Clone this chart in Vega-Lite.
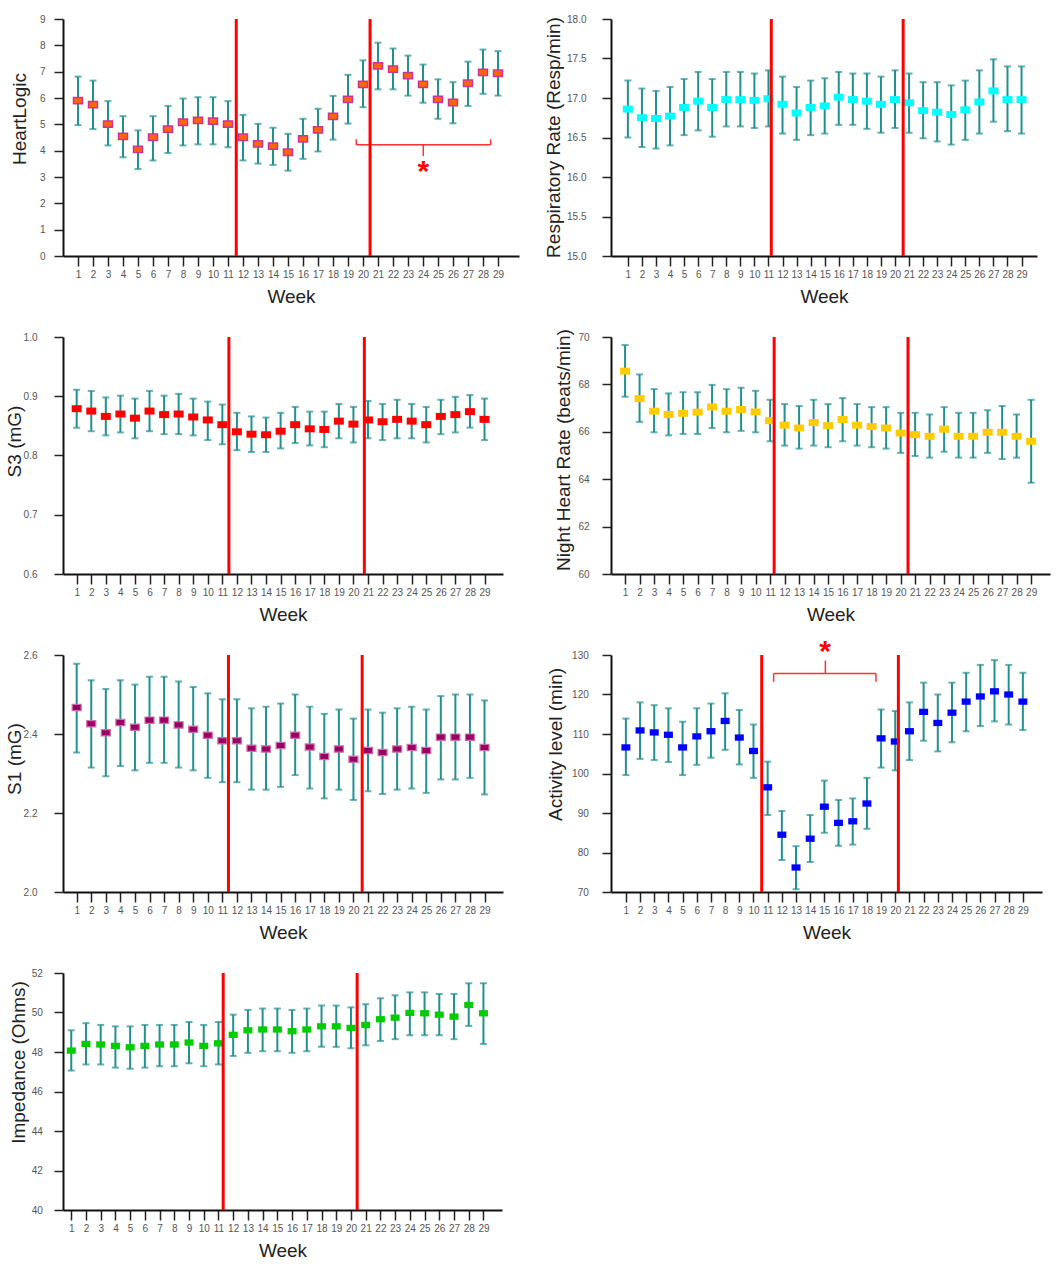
{
"$schema": "https://vega.github.io/schema/vega-lite/v6.json",
"background": "white",
"padding": {"left": 5, "top": 13, "right": 5, "bottom": 5},
"config": {
  "view": {"stroke": null},
  "font": "Liberation Sans",
  "axis": {"grid": false, "domainColor": "#111", "domainWidth": 2, "tickColor": "#222", "tickWidth": 1.5, "labelFont": "Liberation Sans", "labelFontSize": 10, "labelColor": "#555", "titleFont": "Liberation Sans", "titleFontSize": 19, "titleFontWeight": "normal", "titleColor": "#222", "labelOverlap": false, "labelFlush": false, "titleBaseline": "middle"},
  "axisX": {"tickSize": 10, "labelPadding": 3},
  "axisY": {"tickSize": 9}
},
"datasets": {
  "hl": [
    {"week":1,"mean":5.90,"lo":4.97,"hi":6.81},{"week":2,"mean":5.75,"lo":4.82,"hi":6.66},{"week":3,"mean":5.01,"lo":4.20,"hi":5.88},{"week":4,"mean":4.54,"lo":3.75,"hi":5.31},{"week":5,"mean":4.05,"lo":3.30,"hi":4.77},{"week":6,"mean":4.51,"lo":3.63,"hi":5.31},{"week":7,"mean":4.82,"lo":3.91,"hi":5.70},{"week":8,"mean":5.08,"lo":4.20,"hi":5.98},{"week":9,"mean":5.15,"lo":4.24,"hi":6.03},{"week":10,"mean":5.12,"lo":4.24,"hi":6.03},{"week":11,"mean":5.01,"lo":4.13,"hi":5.88},{"week":12,"mean":4.51,"lo":3.63,"hi":5.36},{"week":13,"mean":4.26,"lo":3.51,"hi":5.02},{"week":14,"mean":4.17,"lo":3.46,"hi":4.87},{"week":15,"mean":3.94,"lo":3.24,"hi":4.64},{"week":16,"mean":4.45,"lo":3.69,"hi":5.21},{"week":17,"mean":4.79,"lo":3.97,"hi":5.59},{"week":18,"mean":5.30,"lo":4.42,"hi":6.08},{"week":19,"mean":5.95,"lo":5.03,"hi":6.88},{"week":20,"mean":6.52,"lo":5.65,"hi":7.43},{"week":21,"mean":7.22,"lo":6.33,"hi":8.10},{"week":22,"mean":7.10,"lo":6.33,"hi":7.88},{"week":23,"mean":6.85,"lo":6.09,"hi":7.61},{"week":24,"mean":6.52,"lo":5.82,"hi":7.27},{"week":25,"mean":5.95,"lo":5.21,"hi":6.71},{"week":26,"mean":5.83,"lo":5.04,"hi":6.60},{"week":27,"mean":6.56,"lo":5.70,"hi":7.38},{"week":28,"mean":6.97,"lo":6.16,"hi":7.84},{"week":29,"mean":6.94,"lo":6.09,"hi":7.78}
  ],
  "rr": [
    {"week":1,"mean":16.86,"lo":16.50,"hi":17.22},{"week":2,"mean":16.75,"lo":16.38,"hi":17.12},{"week":3,"mean":16.74,"lo":16.36,"hi":17.09},{"week":4,"mean":16.77,"lo":16.40,"hi":17.14},{"week":5,"mean":16.88,"lo":16.53,"hi":17.24},{"week":6,"mean":16.96,"lo":16.59,"hi":17.33},{"week":7,"mean":16.88,"lo":16.51,"hi":17.24},{"week":8,"mean":16.98,"lo":16.64,"hi":17.33},{"week":9,"mean":16.98,"lo":16.64,"hi":17.33},{"week":10,"mean":16.97,"lo":16.62,"hi":17.31},{"week":11,"mean":16.99,"lo":16.64,"hi":17.35},{"week":12,"mean":16.92,"lo":16.55,"hi":17.27},{"week":13,"mean":16.81,"lo":16.47,"hi":17.14},{"week":14,"mean":16.88,"lo":16.53,"hi":17.22},{"week":15,"mean":16.90,"lo":16.55,"hi":17.25},{"week":16,"mean":17.01,"lo":16.66,"hi":17.33},{"week":17,"mean":16.98,"lo":16.66,"hi":17.31},{"week":18,"mean":16.96,"lo":16.61,"hi":17.31},{"week":19,"mean":16.92,"lo":16.56,"hi":17.27},{"week":20,"mean":16.98,"lo":16.62,"hi":17.35},{"week":21,"mean":16.94,"lo":16.56,"hi":17.31},{"week":22,"mean":16.84,"lo":16.49,"hi":17.20},{"week":23,"mean":16.82,"lo":16.45,"hi":17.20},{"week":24,"mean":16.79,"lo":16.41,"hi":17.16},{"week":25,"mean":16.85,"lo":16.47,"hi":17.22},{"week":26,"mean":16.95,"lo":16.55,"hi":17.35},{"week":27,"mean":17.09,"lo":16.70,"hi":17.49},{"week":28,"mean":16.98,"lo":16.58,"hi":17.40},{"week":29,"mean":16.98,"lo":16.55,"hi":17.40}
  ],
  "s3": [
    {"week":1,"mean":0.879,"lo":0.847,"hi":0.911},{"week":2,"mean":0.875,"lo":0.841,"hi":0.909},{"week":3,"mean":0.866,"lo":0.834,"hi":0.898},{"week":4,"mean":0.870,"lo":0.839,"hi":0.901},{"week":5,"mean":0.863,"lo":0.829,"hi":0.896},{"week":6,"mean":0.875,"lo":0.841,"hi":0.909},{"week":7,"mean":0.869,"lo":0.836,"hi":0.901},{"week":8,"mean":0.870,"lo":0.836,"hi":0.904},{"week":9,"mean":0.865,"lo":0.834,"hi":0.896},{"week":10,"mean":0.860,"lo":0.826,"hi":0.891},{"week":11,"mean":0.852,"lo":0.819,"hi":0.886},{"week":12,"mean":0.840,"lo":0.809,"hi":0.872},{"week":13,"mean":0.836,"lo":0.806,"hi":0.866},{"week":14,"mean":0.835,"lo":0.806,"hi":0.864},{"week":15,"mean":0.841,"lo":0.812,"hi":0.872},{"week":16,"mean":0.852,"lo":0.821,"hi":0.882},{"week":17,"mean":0.845,"lo":0.817,"hi":0.874},{"week":18,"mean":0.844,"lo":0.814,"hi":0.874},{"week":19,"mean":0.858,"lo":0.829,"hi":0.887},{"week":20,"mean":0.853,"lo":0.822,"hi":0.882},{"week":21,"mean":0.860,"lo":0.829,"hi":0.892},{"week":22,"mean":0.857,"lo":0.826,"hi":0.887},{"week":23,"mean":0.861,"lo":0.829,"hi":0.894},{"week":24,"mean":0.858,"lo":0.829,"hi":0.887},{"week":25,"mean":0.852,"lo":0.822,"hi":0.882},{"week":26,"mean":0.866,"lo":0.836,"hi":0.894},{"week":27,"mean":0.869,"lo":0.839,"hi":0.899},{"week":28,"mean":0.874,"lo":0.847,"hi":0.902},{"week":29,"mean":0.861,"lo":0.826,"hi":0.896}
  ],
  "nhr": [
    {"week":1,"mean":68.56,"lo":67.48,"hi":69.66},{"week":2,"mean":67.40,"lo":66.42,"hi":68.42},{"week":3,"mean":66.87,"lo":65.98,"hi":67.80},{"week":4,"mean":66.73,"lo":65.85,"hi":67.62},{"week":5,"mean":66.78,"lo":65.91,"hi":67.67},{"week":6,"mean":66.83,"lo":65.91,"hi":67.67},{"week":7,"mean":67.05,"lo":66.16,"hi":67.98},{"week":8,"mean":66.87,"lo":65.98,"hi":67.80},{"week":9,"mean":66.94,"lo":66.04,"hi":67.86},{"week":10,"mean":66.84,"lo":65.98,"hi":67.73},{"week":11,"mean":66.47,"lo":65.60,"hi":67.35},{"week":12,"mean":66.28,"lo":65.42,"hi":67.17},{"week":13,"mean":66.16,"lo":65.29,"hi":67.09},{"week":14,"mean":66.39,"lo":65.42,"hi":67.35},{"week":15,"mean":66.26,"lo":65.35,"hi":67.17},{"week":16,"mean":66.52,"lo":65.60,"hi":67.42},{"week":17,"mean":66.28,"lo":65.42,"hi":67.17},{"week":18,"mean":66.22,"lo":65.35,"hi":67.04},{"week":19,"mean":66.16,"lo":65.29,"hi":67.04},{"week":20,"mean":65.95,"lo":65.11,"hi":66.80},{"week":21,"mean":65.88,"lo":64.98,"hi":66.80},{"week":22,"mean":65.81,"lo":64.91,"hi":66.73},{"week":23,"mean":66.11,"lo":65.16,"hi":67.04},{"week":24,"mean":65.81,"lo":64.91,"hi":66.80},{"week":25,"mean":65.81,"lo":64.91,"hi":66.80},{"week":26,"mean":65.98,"lo":65.11,"hi":66.91},{"week":27,"mean":65.98,"lo":64.85,"hi":67.09},{"week":28,"mean":65.81,"lo":64.91,"hi":66.73},{"week":29,"mean":65.60,"lo":63.85,"hi":67.35}
  ],
  "s1": [
    {"week":1,"mean":2.467,"lo":2.353,"hi":2.578},{"week":2,"mean":2.426,"lo":2.315,"hi":2.536},{"week":3,"mean":2.403,"lo":2.293,"hi":2.514},{"week":4,"mean":2.429,"lo":2.319,"hi":2.536},{"week":5,"mean":2.417,"lo":2.308,"hi":2.525},{"week":6,"mean":2.435,"lo":2.327,"hi":2.545},{"week":7,"mean":2.435,"lo":2.327,"hi":2.545},{"week":8,"mean":2.423,"lo":2.315,"hi":2.533},{"week":9,"mean":2.412,"lo":2.308,"hi":2.519},{"week":10,"mean":2.397,"lo":2.289,"hi":2.503},{"week":11,"mean":2.383,"lo":2.278,"hi":2.488},{"week":12,"mean":2.383,"lo":2.278,"hi":2.488},{"week":13,"mean":2.364,"lo":2.259,"hi":2.465},{"week":14,"mean":2.362,"lo":2.259,"hi":2.469},{"week":15,"mean":2.371,"lo":2.266,"hi":2.477},{"week":16,"mean":2.397,"lo":2.296,"hi":2.500},{"week":17,"mean":2.367,"lo":2.262,"hi":2.469},{"week":18,"mean":2.343,"lo":2.237,"hi":2.451},{"week":19,"mean":2.362,"lo":2.259,"hi":2.462},{"week":20,"mean":2.336,"lo":2.233,"hi":2.439},{"week":21,"mean":2.358,"lo":2.255,"hi":2.462},{"week":22,"mean":2.353,"lo":2.248,"hi":2.454},{"week":23,"mean":2.362,"lo":2.259,"hi":2.465},{"week":24,"mean":2.366,"lo":2.262,"hi":2.469},{"week":25,"mean":2.358,"lo":2.251,"hi":2.462},{"week":26,"mean":2.392,"lo":2.285,"hi":2.496},{"week":27,"mean":2.392,"lo":2.285,"hi":2.500},{"week":28,"mean":2.392,"lo":2.289,"hi":2.500},{"week":29,"mean":2.366,"lo":2.247,"hi":2.485}
  ],
  "act": [
    {"week":1,"mean":106.6,"lo":99.6,"hi":113.9},{"week":2,"mean":110.9,"lo":103.7,"hi":118.0},{"week":3,"mean":110.4,"lo":103.4,"hi":117.3},{"week":4,"mean":109.8,"lo":102.9,"hi":116.5},{"week":5,"mean":106.6,"lo":99.6,"hi":113.1},{"week":6,"mean":109.4,"lo":102.2,"hi":116.5},{"week":7,"mean":110.7,"lo":104.0,"hi":117.7},{"week":8,"mean":113.3,"lo":106.0,"hi":120.3},{"week":9,"mean":109.1,"lo":102.3,"hi":116.1},{"week":10,"mean":105.7,"lo":98.9,"hi":112.4},{"week":11,"mean":96.5,"lo":89.5,"hi":103.0},{"week":12,"mean":84.5,"lo":78.1,"hi":90.5},{"week":13,"mean":76.2,"lo":70.7,"hi":81.6},{"week":14,"mean":83.5,"lo":77.6,"hi":89.5},{"week":15,"mean":91.6,"lo":85.0,"hi":98.2},{"week":16,"mean":87.5,"lo":81.7,"hi":93.3},{"week":17,"mean":87.9,"lo":82.0,"hi":93.7},{"week":18,"mean":92.4,"lo":86.0,"hi":98.9},{"week":19,"mean":108.9,"lo":101.5,"hi":116.2},{"week":20,"mean":108.1,"lo":100.8,"hi":115.8},{"week":21,"mean":110.7,"lo":103.4,"hi":118.0},{"week":22,"mean":115.6,"lo":108.3,"hi":123.0},{"week":23,"mean":112.8,"lo":105.6,"hi":120.0},{"week":24,"mean":115.4,"lo":107.9,"hi":123.0},{"week":25,"mean":118.2,"lo":110.7,"hi":125.5},{"week":26,"mean":119.5,"lo":112.0,"hi":127.5},{"week":27,"mean":120.8,"lo":113.2,"hi":128.7},{"week":28,"mean":120.0,"lo":112.4,"hi":127.5},{"week":29,"mean":118.2,"lo":111.0,"hi":125.5}
  ],
  "imp": [
    {"week":1,"mean":48.07,"lo":47.06,"hi":49.10},{"week":2,"mean":48.41,"lo":47.37,"hi":49.46},{"week":3,"mean":48.38,"lo":47.37,"hi":49.37},{"week":4,"mean":48.31,"lo":47.21,"hi":49.30},{"week":5,"mean":48.24,"lo":47.15,"hi":49.30},{"week":6,"mean":48.31,"lo":47.21,"hi":49.37},{"week":7,"mean":48.38,"lo":47.28,"hi":49.37},{"week":8,"mean":48.38,"lo":47.28,"hi":49.37},{"week":9,"mean":48.48,"lo":47.43,"hi":49.52},{"week":10,"mean":48.31,"lo":47.28,"hi":49.37},{"week":11,"mean":48.44,"lo":47.37,"hi":49.52},{"week":12,"mean":48.87,"lo":47.80,"hi":49.89},{"week":13,"mean":49.10,"lo":47.96,"hi":50.13},{"week":14,"mean":49.14,"lo":48.04,"hi":50.20},{"week":15,"mean":49.14,"lo":48.04,"hi":50.20},{"week":16,"mean":49.05,"lo":47.96,"hi":50.13},{"week":17,"mean":49.14,"lo":48.04,"hi":50.20},{"week":18,"mean":49.30,"lo":48.26,"hi":50.35},{"week":19,"mean":49.30,"lo":48.26,"hi":50.35},{"week":20,"mean":49.22,"lo":48.19,"hi":50.26},{"week":21,"mean":49.37,"lo":48.34,"hi":50.42},{"week":22,"mean":49.66,"lo":48.56,"hi":50.72},{"week":23,"mean":49.74,"lo":48.65,"hi":50.87},{"week":24,"mean":49.98,"lo":48.85,"hi":51.02},{"week":25,"mean":49.96,"lo":48.85,"hi":51.02},{"week":26,"mean":49.89,"lo":48.85,"hi":50.94},{"week":27,"mean":49.79,"lo":48.65,"hi":50.94},{"week":28,"mean":50.38,"lo":49.32,"hi":51.48},{"week":29,"mean":49.96,"lo":48.41,"hi":51.48}
  ],
  "redlines": [
    {"panel":"hl","week":11.55},{"panel":"hl","week":20.47},
    {"panel":"rr","week":11.2},{"panel":"rr","week":20.58},
    {"panel":"s3","week":11.45},{"panel":"s3","week":20.75},
    {"panel":"nhr","week":11.28},{"panel":"nhr","week":20.51},
    {"panel":"s1","week":11.42},{"panel":"s1","week":20.6},
    {"panel":"act","week":10.58},{"panel":"act","week":20.22},
    {"panel":"imp","week":11.32},{"panel":"imp","week":20.42}
  ],
  "brackets": [
    {"panel":"hl","week":19.55,"week2":28.51,"v":4.22,"v2":4.22},
    {"panel":"hl","week":19.55,"week2":19.55,"v":4.22,"v2":4.43},
    {"panel":"hl","week":28.51,"week2":28.51,"v":4.22,"v2":4.43},
    {"panel":"hl","week":24.02,"week2":24.02,"v":4.22,"v2":3.80},
    {"panel":"act","week":11.42,"week2":18.64,"v":125.3,"v2":125.3},
    {"panel":"act","week":11.42,"week2":11.42,"v":125.3,"v2":123.2},
    {"panel":"act","week":18.64,"week2":18.64,"v":125.3,"v2":123.2},
    {"panel":"act","week":15.07,"week2":15.07,"v":125.3,"v2":128.6}
  ],
  "stars": [
    {"panel":"hl","week":24.02,"v":3.35},
    {"panel":"act","week":15.05,"v":131.7}
  ]
},
"bounds": "flush",
"columns": 2,
"spacing": {"row": 81, "column": 92},
"concat": [
    {"width": 456, "height": 237,
     "encoding": {"x": {"field": "week", "type": "quantitative", "scale": {"domain": [0, 30.4], "nice": false, "zero": false}, "title": "Week", "axis": {"values": [1,2,3,4,5,6,7,8,9,10,11,12,13,14,15,16,17,18,19,20,21,22,23,24,25,26,27,28,29], "titleY": 40}}},
     "layer": [
       {"data": {"name": "hl"}, "mark": {"type": "rule", "color": "#22908f", "strokeWidth": 2}, "encoding": {"y": {"field": "lo", "type": "quantitative", "scale": {"domain": [0, 9], "nice": false, "zero": false}, "title": "HeartLogic", "axis": {"values": [0,1,2,3,4,5,6,7,8,9], "labelPadding": 9, "titleX": -44, "titleY": 99.5}}, "y2": {"field": "hi"}}},
       {"data": {"name": "hl"}, "mark": {"type": "tick", "orient": "horizontal", "color": "#22908f", "size": 7, "thickness": 2}, "encoding": {"y": {"field": "lo", "type": "quantitative", "title": "HeartLogic", "axis": {"values": [0,1,2,3,4,5,6,7,8,9], "labelPadding": 9, "titleX": -44, "titleY": 99.5}}}},
       {"data": {"name": "hl"}, "mark": {"type": "tick", "orient": "horizontal", "color": "#22908f", "size": 7, "thickness": 2}, "encoding": {"y": {"field": "hi", "type": "quantitative", "title": "HeartLogic", "axis": {"values": [0,1,2,3,4,5,6,7,8,9], "labelPadding": 9, "titleX": -44, "titleY": 99.5}}}},
       {"data": {"name": "hl"}, "mark": {"type": "point", "shape": "M-1,-0.7H1V0.7H-1Z", "filled": true, "fill": "#ff6600", "stroke": "#cc3399", "strokeWidth": 1.5, "size": 81, "opacity": 1}, "encoding": {"y": {"field": "mean", "type": "quantitative", "title": "HeartLogic", "axis": {"values": [0,1,2,3,4,5,6,7,8,9], "labelPadding": 9, "titleX": -44, "titleY": 99.5}}}},
       {"data": {"name": "brackets"}, "transform": [{"filter": "datum.panel == 'hl'"}], "mark": {"type": "rule", "color": "#ff3030", "strokeWidth": 1.5}, "encoding": {"x2": {"field": "week2"}, "y": {"field": "v", "type": "quantitative", "title": "HeartLogic", "axis": {"values": [0,1,2,3,4,5,6,7,8,9], "labelPadding": 9, "titleX": -44, "titleY": 99.5}}, "y2": {"field": "v2"}}},
       {"data": {"name": "stars"}, "transform": [{"filter": "datum.panel == 'hl'"}], "mark": {"type": "text", "text": "*", "color": "#ff0000", "fontSize": 30, "fontWeight": "bold", "baseline": "alphabetic", "dy": 13}, "encoding": {"y": {"field": "v", "type": "quantitative", "title": "HeartLogic", "axis": {"values": [0,1,2,3,4,5,6,7,8,9], "labelPadding": 9, "titleX": -44, "titleY": 99.5}}}},
       {"data": {"name": "redlines"}, "transform": [{"filter": "datum.panel == 'hl'"}], "mark": {"type": "rule", "color": "#ff0000", "strokeWidth": 3}, "encoding": {}}
     ]},
    {"width": 426, "height": 237,
     "encoding": {"x": {"field": "week", "type": "quantitative", "scale": {"domain": [-0.2, 30.1], "nice": false, "zero": false}, "title": "Week", "axis": {"values": [1,2,3,4,5,6,7,8,9,10,11,12,13,14,15,16,17,18,19,20,21,22,23,24,25,26,27,28,29], "titleY": 40}}},
     "layer": [
       {"data": {"name": "rr"}, "mark": {"type": "rule", "color": "#22908f", "strokeWidth": 2}, "encoding": {"y": {"field": "lo", "type": "quantitative", "scale": {"domain": [15, 18], "nice": false, "zero": false}, "title": "Respiratory  Rate (Resp/min)", "axis": {"values": [15,15.5,16,16.5,17,17.5,18], "format": ".1f", "labelPadding": 16, "titleX": -58, "titleY": 118}}, "y2": {"field": "hi"}}},
       {"data": {"name": "rr"}, "mark": {"type": "tick", "orient": "horizontal", "color": "#22908f", "size": 7, "thickness": 2}, "encoding": {"y": {"field": "lo", "type": "quantitative", "title": "Respiratory  Rate (Resp/min)", "axis": {"values": [15,15.5,16,16.5,17,17.5,18], "format": ".1f", "labelPadding": 16, "titleX": -58, "titleY": 118}}}},
       {"data": {"name": "rr"}, "mark": {"type": "tick", "orient": "horizontal", "color": "#22908f", "size": 7, "thickness": 2}, "encoding": {"y": {"field": "hi", "type": "quantitative", "title": "Respiratory  Rate (Resp/min)", "axis": {"values": [15,15.5,16,16.5,17,17.5,18], "format": ".1f", "labelPadding": 16, "titleX": -58, "titleY": 118}}}},
       {"data": {"name": "rr"}, "mark": {"type": "point", "shape": "M-1,-0.7H1V0.7H-1Z", "filled": true, "fill": "#00ffff", "strokeWidth": 0, "size": 100, "opacity": 1}, "encoding": {"y": {"field": "mean", "type": "quantitative", "title": "Respiratory  Rate (Resp/min)", "axis": {"values": [15,15.5,16,16.5,17,17.5,18], "format": ".1f", "labelPadding": 16, "titleX": -58, "titleY": 118}}}},
       {"data": {"name": "redlines"}, "transform": [{"filter": "datum.panel == 'rr'"}], "mark": {"type": "rule", "color": "#ff0000", "strokeWidth": 3}, "encoding": {}}
     ]},
    {"width": 440, "height": 237,
     "encoding": {"x": {"field": "week", "type": "quantitative", "scale": {"domain": [0.06, 30.27], "nice": false, "zero": false}, "title": "Week", "axis": {"values": [1,2,3,4,5,6,7,8,9,10,11,12,13,14,15,16,17,18,19,20,21,22,23,24,25,26,27,28,29], "titleY": 40}}},
     "layer": [
       {"data": {"name": "s3"}, "mark": {"type": "rule", "color": "#22908f", "strokeWidth": 2}, "encoding": {"y": {"field": "lo", "type": "quantitative", "scale": {"domain": [0.6, 1.0], "nice": false, "zero": false}, "title": "S3 (mG)", "axis": {"values": [0.6,0.7,0.8,0.9,1.0], "format": ".1f", "labelPadding": 17, "titleX": -49, "titleY": 104}}, "y2": {"field": "hi"}}},
       {"data": {"name": "s3"}, "mark": {"type": "tick", "orient": "horizontal", "color": "#22908f", "size": 7, "thickness": 2}, "encoding": {"y": {"field": "lo", "type": "quantitative", "title": "S3 (mG)", "axis": {"values": [0.6,0.7,0.8,0.9,1.0], "format": ".1f", "labelPadding": 17, "titleX": -49, "titleY": 104}}}},
       {"data": {"name": "s3"}, "mark": {"type": "tick", "orient": "horizontal", "color": "#22908f", "size": 7, "thickness": 2}, "encoding": {"y": {"field": "hi", "type": "quantitative", "title": "S3 (mG)", "axis": {"values": [0.6,0.7,0.8,0.9,1.0], "format": ".1f", "labelPadding": 17, "titleX": -49, "titleY": 104}}}},
       {"data": {"name": "s3"}, "mark": {"type": "point", "shape": "M-1,-0.7H1V0.7H-1Z", "filled": true, "fill": "#ff0000", "strokeWidth": 0, "size": 100, "opacity": 1}, "encoding": {"y": {"field": "mean", "type": "quantitative", "title": "S3 (mG)", "axis": {"values": [0.6,0.7,0.8,0.9,1.0], "format": ".1f", "labelPadding": 17, "titleX": -49, "titleY": 104}}}},
       {"data": {"name": "redlines"}, "transform": [{"filter": "datum.panel == 's3'"}], "mark": {"type": "rule", "color": "#ff0000", "strokeWidth": 3}, "encoding": {}}
     ]},
    {"width": 439, "height": 237,
     "encoding": {"x": {"field": "week", "type": "quantitative", "scale": {"domain": [0.03, 30.3], "nice": false, "zero": false}, "title": "Week", "axis": {"values": [1,2,3,4,5,6,7,8,9,10,11,12,13,14,15,16,17,18,19,20,21,22,23,24,25,26,27,28,29], "titleY": 40}}},
     "layer": [
       {"data": {"name": "nhr"}, "mark": {"type": "rule", "color": "#22908f", "strokeWidth": 2}, "encoding": {"y": {"field": "lo", "type": "quantitative", "scale": {"domain": [60, 70], "nice": false, "zero": false}, "title": "Night Heart Rate (beats/min)", "axis": {"values": [60,62,64,66,68,70], "labelPadding": 13, "titleX": -48, "titleY": 112.5}}, "y2": {"field": "hi"}}},
       {"data": {"name": "nhr"}, "mark": {"type": "tick", "orient": "horizontal", "color": "#22908f", "size": 7, "thickness": 2}, "encoding": {"y": {"field": "lo", "type": "quantitative", "title": "Night Heart Rate (beats/min)", "axis": {"values": [60,62,64,66,68,70], "labelPadding": 13, "titleX": -48, "titleY": 112.5}}}},
       {"data": {"name": "nhr"}, "mark": {"type": "tick", "orient": "horizontal", "color": "#22908f", "size": 7, "thickness": 2}, "encoding": {"y": {"field": "hi", "type": "quantitative", "title": "Night Heart Rate (beats/min)", "axis": {"values": [60,62,64,66,68,70], "labelPadding": 13, "titleX": -48, "titleY": 112.5}}}},
       {"data": {"name": "nhr"}, "mark": {"type": "point", "shape": "M-1,-0.7H1V0.7H-1Z", "filled": true, "fill": "#ffcc00", "strokeWidth": 0, "size": 100, "opacity": 1}, "encoding": {"y": {"field": "mean", "type": "quantitative", "title": "Night Heart Rate (beats/min)", "axis": {"values": [60,62,64,66,68,70], "labelPadding": 13, "titleX": -48, "titleY": 112.5}}}},
       {"data": {"name": "redlines"}, "transform": [{"filter": "datum.panel == 'nhr'"}], "mark": {"type": "rule", "color": "#ff0000", "strokeWidth": 3}, "encoding": {}}
     ]},
    {"width": 440, "height": 237,
     "encoding": {"x": {"field": "week", "type": "quantitative", "scale": {"domain": [0.06, 30.27], "nice": false, "zero": false}, "title": "Week", "axis": {"values": [1,2,3,4,5,6,7,8,9,10,11,12,13,14,15,16,17,18,19,20,21,22,23,24,25,26,27,28,29], "titleY": 40}}},
     "layer": [
       {"data": {"name": "s1"}, "mark": {"type": "rule", "color": "#22908f", "strokeWidth": 2}, "encoding": {"y": {"field": "lo", "type": "quantitative", "scale": {"domain": [2.0, 2.6], "nice": false, "zero": false}, "title": "S1 (mG)", "axis": {"values": [2.0,2.2,2.4,2.6], "format": ".1f", "labelPadding": 17, "titleX": -49, "titleY": 103.5}}, "y2": {"field": "hi"}}},
       {"data": {"name": "s1"}, "mark": {"type": "tick", "orient": "horizontal", "color": "#22908f", "size": 7, "thickness": 2}, "encoding": {"y": {"field": "lo", "type": "quantitative", "title": "S1 (mG)", "axis": {"values": [2.0,2.2,2.4,2.6], "format": ".1f", "labelPadding": 17, "titleX": -49, "titleY": 103.5}}}},
       {"data": {"name": "s1"}, "mark": {"type": "tick", "orient": "horizontal", "color": "#22908f", "size": 7, "thickness": 2}, "encoding": {"y": {"field": "hi", "type": "quantitative", "title": "S1 (mG)", "axis": {"values": [2.0,2.2,2.4,2.6], "format": ".1f", "labelPadding": 17, "titleX": -49, "titleY": 103.5}}}},
       {"data": {"name": "s1"}, "mark": {"type": "point", "shape": "M-1,-0.7H1V0.7H-1Z", "filled": true, "fill": "#990066", "stroke": "#d070a8", "strokeWidth": 1.2, "size": 81, "opacity": 1}, "encoding": {"y": {"field": "mean", "type": "quantitative", "title": "S1 (mG)", "axis": {"values": [2.0,2.2,2.4,2.6], "format": ".1f", "labelPadding": 17, "titleX": -49, "titleY": 103.5}}}},
       {"data": {"name": "redlines"}, "transform": [{"filter": "datum.panel == 's1'"}], "mark": {"type": "rule", "color": "#ff0000", "strokeWidth": 3}, "encoding": {}}
     ]},
    {"width": 431, "height": 237,
     "encoding": {"x": {"field": "week", "type": "quantitative", "scale": {"domain": [-0.05, 30.35], "nice": false, "zero": false}, "title": "Week", "axis": {"values": [1,2,3,4,5,6,7,8,9,10,11,12,13,14,15,16,17,18,19,20,21,22,23,24,25,26,27,28,29], "titleY": 40}}},
     "layer": [
       {"data": {"name": "act"}, "mark": {"type": "rule", "color": "#22908f", "strokeWidth": 2}, "encoding": {"y": {"field": "lo", "type": "quantitative", "scale": {"domain": [70, 130], "nice": false, "zero": false}, "title": "Activity level  (min)", "axis": {"values": [70,80,90,100,110,120,130], "labelPadding": 13.7, "titleX": -56, "titleY": 89}}, "y2": {"field": "hi"}}},
       {"data": {"name": "act"}, "mark": {"type": "tick", "orient": "horizontal", "color": "#22908f", "size": 7, "thickness": 2}, "encoding": {"y": {"field": "lo", "type": "quantitative", "title": "Activity level  (min)", "axis": {"values": [70,80,90,100,110,120,130], "labelPadding": 13.7, "titleX": -56, "titleY": 89}}}},
       {"data": {"name": "act"}, "mark": {"type": "tick", "orient": "horizontal", "color": "#22908f", "size": 7, "thickness": 2}, "encoding": {"y": {"field": "hi", "type": "quantitative", "title": "Activity level  (min)", "axis": {"values": [70,80,90,100,110,120,130], "labelPadding": 13.7, "titleX": -56, "titleY": 89}}}},
       {"data": {"name": "act"}, "mark": {"type": "point", "shape": "M-1,-0.7H1V0.7H-1Z", "filled": true, "fill": "#0000ff", "strokeWidth": 0, "size": 81, "opacity": 1}, "encoding": {"y": {"field": "mean", "type": "quantitative", "title": "Activity level  (min)", "axis": {"values": [70,80,90,100,110,120,130], "labelPadding": 13.7, "titleX": -56, "titleY": 89}}}},
       {"data": {"name": "brackets"}, "transform": [{"filter": "datum.panel == 'act'"}], "mark": {"type": "rule", "color": "#ff3030", "strokeWidth": 1.5}, "encoding": {"x2": {"field": "week2"}, "y": {"field": "v", "type": "quantitative", "title": "Activity level  (min)", "axis": {"values": [70,80,90,100,110,120,130], "labelPadding": 13.7, "titleX": -56, "titleY": 89}}, "y2": {"field": "v2"}}},
       {"data": {"name": "stars"}, "transform": [{"filter": "datum.panel == 'act'"}], "mark": {"type": "text", "text": "*", "color": "#ff0000", "fontSize": 30, "fontWeight": "bold", "baseline": "alphabetic", "dy": 13}, "encoding": {"y": {"field": "v", "type": "quantitative", "title": "Activity level  (min)", "axis": {"values": [70,80,90,100,110,120,130], "labelPadding": 13.7, "titleX": -56, "titleY": 89}}}},
       {"data": {"name": "redlines"}, "transform": [{"filter": "datum.panel == 'act'"}], "mark": {"type": "rule", "color": "#ff0000", "strokeWidth": 3}, "encoding": {}}
     ]},
    {"width": 439, "height": 237,
     "encoding": {"x": {"field": "week", "type": "quantitative", "scale": {"domain": [0.44, 30.26], "nice": false, "zero": false}, "title": "Week", "axis": {"values": [1,2,3,4,5,6,7,8,9,10,11,12,13,14,15,16,17,18,19,20,21,22,23,24,25,26,27,28,29], "titleY": 40}}},
     "layer": [
       {"data": {"name": "imp"}, "mark": {"type": "rule", "color": "#22908f", "strokeWidth": 2}, "encoding": {"y": {"field": "lo", "type": "quantitative", "scale": {"domain": [40, 52], "nice": false, "zero": false}, "title": "Impedance  (Ohms)", "axis": {"values": [40,42,44,46,48,50,52], "labelPadding": 11.6, "titleX": -45, "titleY": 89}}, "y2": {"field": "hi"}}},
       {"data": {"name": "imp"}, "mark": {"type": "tick", "orient": "horizontal", "color": "#22908f", "size": 7, "thickness": 2}, "encoding": {"y": {"field": "lo", "type": "quantitative", "title": "Impedance  (Ohms)", "axis": {"values": [40,42,44,46,48,50,52], "labelPadding": 11.6, "titleX": -45, "titleY": 89}}}},
       {"data": {"name": "imp"}, "mark": {"type": "tick", "orient": "horizontal", "color": "#22908f", "size": 7, "thickness": 2}, "encoding": {"y": {"field": "hi", "type": "quantitative", "title": "Impedance  (Ohms)", "axis": {"values": [40,42,44,46,48,50,52], "labelPadding": 11.6, "titleX": -45, "titleY": 89}}}},
       {"data": {"name": "imp"}, "mark": {"type": "point", "shape": "M-1,-0.7H1V0.7H-1Z", "filled": true, "fill": "#00cc00", "strokeWidth": 0, "size": 81, "opacity": 1}, "encoding": {"y": {"field": "mean", "type": "quantitative", "title": "Impedance  (Ohms)", "axis": {"values": [40,42,44,46,48,50,52], "labelPadding": 11.6, "titleX": -45, "titleY": 89}}}},
       {"data": {"name": "redlines"}, "transform": [{"filter": "datum.panel == 'imp'"}], "mark": {"type": "rule", "color": "#ff0000", "strokeWidth": 3}, "encoding": {}}
     ]}
]
}
